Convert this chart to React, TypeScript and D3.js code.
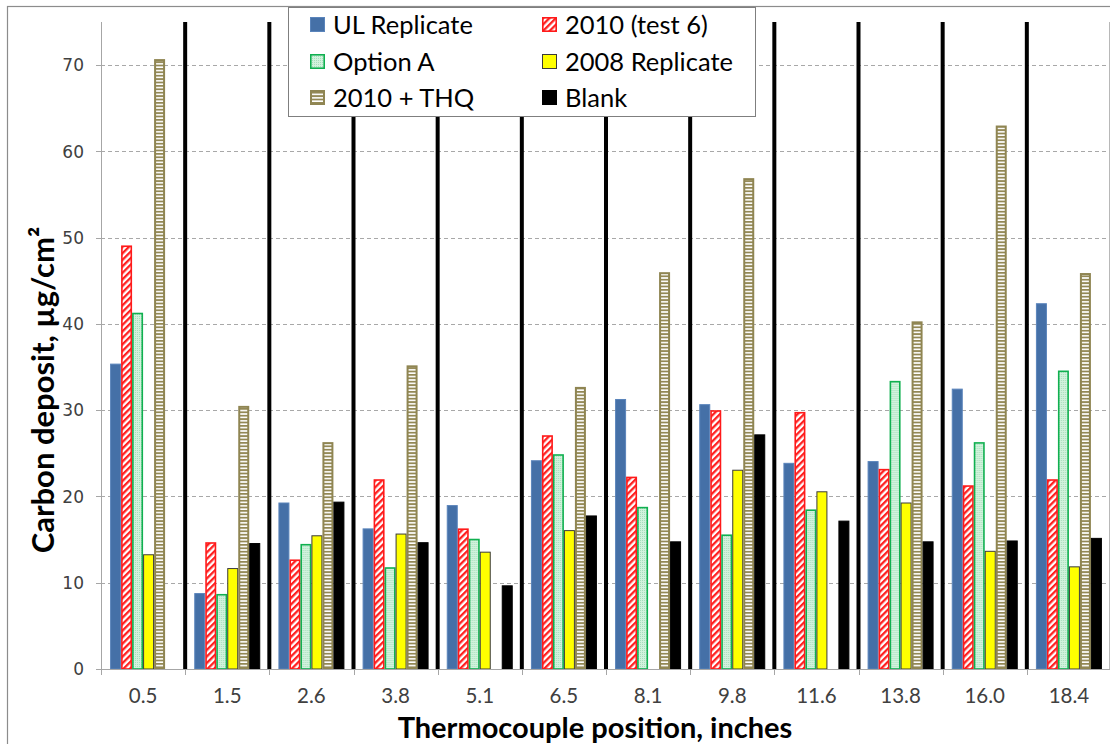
import React from 'react';
import * as d3 from 'd3';

// Thermocouple positions along the tube (inches)
const categories = ['0.5', '1.5', '2.6', '3.8', '5.1', '6.5', '8.1', '9.8', '11.6', '13.8', '16.0', '18.4'];

// Carbon deposit per series, µg/cm² (null = not measured)
const ulReplicate = [35.4, 8.8, 19.3, 16.3, 19.0, 24.2, 31.3, 30.7, 23.9, 24.1, 32.5, 42.4];
const test6 = [49.1, 14.7, 12.7, 22.0, 16.3, 27.1, 22.3, 30.0, 29.8, 23.2, 21.3, 22.0];
const optionA = [41.3, 8.7, 14.5, 11.8, 15.1, 24.9, 18.8, 15.6, 18.5, 33.4, 26.3, 34.6];
const replicate2008 = [13.3, 11.7, 15.5, 15.7, 13.6, 16.1, null, 23.1, 20.6, 19.3, 13.7, 11.9];
const thq2010 = [70.7, 30.5, 26.3, 35.2, null, 32.7, 46.0, 56.9, null, 40.3, 63.0, 45.9];
const blank = [null, 14.6, 19.4, 14.7, 9.7, 17.8, 14.8, 27.2, 17.2, 14.8, 14.9, 15.2];

const seriesNames = ['UL Replicate', '2010 (test 6)', 'Option A', '2008 Replicate', '2010 + THQ', 'Blank'];
const seriesValues = [ulReplicate, test6, optionA, replicate2008, thq2010, blank];

const yTicks = [0, 10, 20, 30, 40, 50, 60, 70];
const yMax = 75;

// Fill / stroke per series
const seriesStyle = [
  { fill: '#4570a7', stroke: '#5a84bb', sw: 1 },
  { fill: 'url(#redStripe)', stroke: '#ff1a1a', sw: 1.6 },
  { fill: 'url(#greenDots)', stroke: '#10b050', sw: 1.6 },
  { fill: '#ffff00', stroke: '#3a3a3a', sw: 1 },
  { fill: 'url(#tanStripe)', stroke: '#8f8552', sw: 2 },
  { fill: '#000000', stroke: '#000000', sw: 1 },
];

const W = 1110;
const H = 744;
const plot = { left: 101, right: 1111, top: 22, bottom: 669 };

export default function App() {
  const x = d3.scaleBand<string>().domain(categories).range([plot.left, plot.right]).paddingInner(0).paddingOuter(0);
  const bw = x.bandwidth();
  const gap = bw * 0.108;
  const inner = d3
    .scaleBand<number>()
    .domain(d3.range(seriesNames.length))
    .range([gap, bw - gap])
    .padding(0);
  const y = d3.scaleLinear().domain([0, yMax]).range([plot.bottom, plot.top]);

  const legendRows = [
    [0, 1],
    [2, 3],
    [4, 5],
  ];
  const legendRowY = [25, 62, 98];
  const legendColX = [310, 542];

  return (
    <svg
      width={W}
      height={H}
      style={{ position: 'absolute', left: 0, top: 0, background: '#fff' }}
      fontFamily="Lato, 'Open Sans', sans-serif"
    >
      <defs>
        <pattern id="redStripe" patternUnits="userSpaceOnUse" width={4.6} height={4.6} patternTransform="rotate(45)">
          <rect width={4.6} height={4.6} fill="#ffffff" />
          <rect width={2.3} height={4.6} fill="#ff2020" />
        </pattern>
        <pattern id="greenDots" patternUnits="userSpaceOnUse" width={2} height={2}>
          <rect width={2} height={2} fill="#d2f2dd" />
          <rect width={1} height={1} fill="#a6dfbc" />
        </pattern>
        <pattern id="tanStripe" patternUnits="userSpaceOnUse" width={4} height={3.4}>
          <rect width={4} height={3.4} fill="#ffffff" />
          <rect width={4} height={1.8} fill="#938855" />
        </pattern>
      </defs>

      {/* outer chart frame */}
      <rect x={7.5} y={6.5} width={W + 20} height={H + 20} fill="#fff" stroke="#8c8c8c" strokeWidth={1.2} />

      {/* horizontal gridlines */}
      {yTicks
        .filter((t) => t > 0)
        .map((t) => (
          <line
            key={'g' + t}
            x1={plot.left}
            x2={plot.right}
            y1={Math.round(y(t)) + 0.5}
            y2={Math.round(y(t)) + 0.5}
            stroke="#a8a8a8"
            strokeDasharray="4,3"
          />
        ))}

      {/* right border of plot */}
      <line x1={1109.5} x2={1109.5} y1={plot.top} y2={plot.bottom} stroke="#b8b8b8" />

      {/* thick separators between positions */}
      {categories.slice(1).map((c) => (
        <line key={'s' + c} x1={x(c)!} x2={x(c)!} y1={y(yMax)} y2={y(0)} stroke="#000" strokeWidth={4} />
      ))}

      {/* bars */}
      {categories.map((c, ci) => (
        <g key={'c' + c} transform={`translate(${x(c)},0)`}>
          {seriesValues.map((vals, si) => {
            const v = vals[ci];
            if (v === null || v === undefined) return null;
            const st = seriesStyle[si];
            const bx = inner(si)!;
            const w = inner.bandwidth();
            return (
              <rect
                key={si}
                x={bx + st.sw / 2}
                y={y(v) + st.sw / 2}
                width={w - st.sw}
                height={y(0) - y(v) - st.sw / 2}
                fill={st.fill}
                stroke={st.stroke}
                strokeWidth={st.sw}
              />
            );
          })}
        </g>
      ))}

      {/* axes */}
      <line x1={plot.left + 0.5} x2={plot.left + 0.5} y1={plot.top} y2={plot.bottom} stroke="#a6a6a6" />
      <line x1={plot.left - 5} x2={plot.right} y1={plot.bottom + 0.5} y2={plot.bottom + 0.5} stroke="#a6a6a6" />
      {yTicks.map((t) => (
        <g key={'yt' + t}>
          <line x1={plot.left - 5} x2={plot.left} y1={Math.round(y(t)) + 0.5} y2={Math.round(y(t)) + 0.5} stroke="#a6a6a6" />
          <text
            x={84}
            y={y(t)}
            dy="0.36em"
            textAnchor="end"
            fontFamily="'DejaVu Sans', Verdana, sans-serif"
            fontSize={17}
            fill="#404040"
          >
            {t}
          </text>
        </g>
      ))}
      {categories.map((c) => (
        <g key={'xt' + c}>
          <line
            x1={Math.round(x(c)!) + 0.5}
            x2={Math.round(x(c)!) + 0.5}
            y1={plot.bottom}
            y2={plot.bottom + 6}
            stroke="#a6a6a6"
          />
          <text x={x(c)! + bw / 2} y={703} textAnchor="middle" fontSize={20.5} fill="#404040">
            {c}
          </text>
        </g>
      ))}

      {/* axis titles */}
      <text x={595} y={738} textAnchor="middle" fontSize={29} fontWeight={700} fill="#000">
        Thermocouple position, inches
      </text>
      <text
        transform={`translate(54,${390}) rotate(-90)`}
        textAnchor="middle"
        fontSize={31}
        fontWeight={700}
        fill="#000"
      >
        Carbon deposit, µg/cm²
      </text>

      {/* legend */}
      <rect x={288.5} y={7.5} width={467} height={109} fill="#fff" stroke="#7f7f7f" />
      {legendRows.map((row, ri) =>
        row.map((si, ci) => {
          const st = seriesStyle[si];
          const sx = legendColX[ci];
          const sy = legendRowY[ri];
          return (
            <g key={'l' + si}>
              <rect
                x={sx + st.sw / 2}
                y={sy - 8 + st.sw / 2}
                width={15 - st.sw}
                height={15 - st.sw}
                fill={st.fill}
                stroke={st.stroke}
                strokeWidth={st.sw}
              />
              <text x={sx + 23} y={sy} dy="0.36em" fontSize={25.5} fill="#000">
                {seriesNames[si]}
              </text>
            </g>
          );
        })
      )}
    </svg>
  );
}
